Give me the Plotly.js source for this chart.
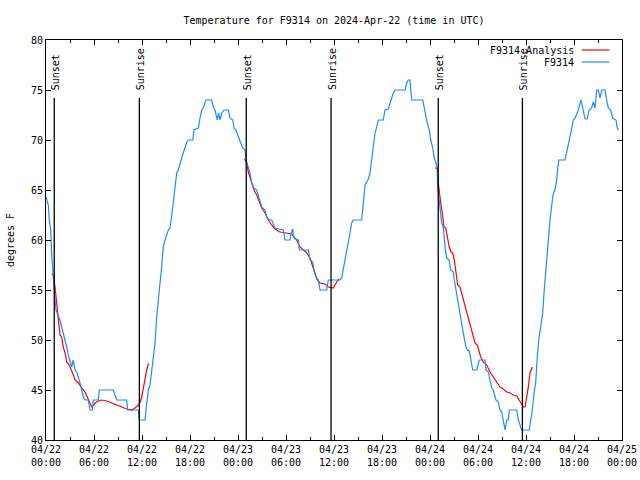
<!DOCTYPE html>
<html>
<head>
<meta charset="utf-8">
<script src="https://cdn.plot.ly/plotly-3.0.1.min.js"></script>
<style>html,body{margin:0;padding:0;background:#fff;}#chart{width:640px;height:480px;}</style>
</head>
<body>
<div id="chart"></div>
<script>
// ---- data (hours after 2024-04-22 00:00 UTC, degrees F) ----
const startDate = '2024-04-22';
const endDate = '2024-04-25';

const stationHours = [0,0.29,0.41,0.59,0.71,0.84,0.91,1.13,1.25,1.54,1.75,1.96,2.16,2.38,2.59,2.79,3.0,3.21,3.41,3.63,3.84,4.04,4.25,4.46,4.66,4.88,5.29,5.5,5.79,5.91,6.54,6.66,8.41,8.84,10.09,10.21,11.54,11.66,12.38,12.5,12.79,13.0,13.21,13.41,13.63,13.84,14.04,14.25,14.46,14.66,14.88,15.29,15.5,15.71,15.91,16.13,16.34,16.54,16.75,16.96,17.16,17.38,17.59,17.79,18.34,18.5,19.04,19.25,19.46,19.66,20.0,20.71,20.91,21.13,21.41,21.59,21.75,21.96,22.25,22.79,23.0,23.34,23.5,23.75,23.91,24.25,24.59,24.88,25.0,25.29,25.5,25.71,26.0,26.34,26.66,26.96,27.38,27.59,27.91,28.21,28.63,29.66,29.88,30.5,30.59,30.84,30.91,31.13,31.54,31.66,32.79,33.0,33.34,33.5,33.75,34.04,34.25,35.09,35.29,36.75,36.96,37.16,37.38,37.59,37.79,38.0,38.21,38.41,39.46,39.66,39.88,40.09,40.29,40.5,40.71,40.91,41.13,41.34,41.54,42.16,42.38,42.79,43.0,43.21,43.41,43.63,44.88,45.09,45.29,45.5,45.59,45.71,47.09,47.25,47.5,47.66,47.91,48.09,48.34,48.5,48.75,48.91,48.94,49.06,49.16,49.34,49.46,49.66,49.75,49.88,50.09,50.38,50.59,50.91,51.04,51.25,51.41,51.66,51.84,52.04,52.25,52.5,52.66,52.91,53.09,53.34,53.84,54.16,54.88,55.0,55.29,55.5,55.71,55.91,56.25,56.54,56.75,56.96,57.16,57.38,57.59,57.79,57.91,58.84,59.04,59.25,59.46,60.41,60.59,60.79,61.0,61.21,61.41,61.63,61.84,62.09,62.25,62.46,62.66,62.79,63.0,63.19,63.38,63.63,63.81,63.94,64.1,64.88,65.09,65.29,65.5,65.71,65.91,66.13,66.41,66.66,66.88,67.09,67.38,67.66,67.88,68.21,68.41,68.63,68.84,69.04,69.25,69.46,69.88,70.09,70.29,70.59,70.84,71.25,71.41,71.59];
const stationTemps = [64.3,63.5,62,61,58.5,57,55.5,54,53,52.5,52,51.3,50.7,50,49.3,48.5,48,47.3,48,47,46.8,46.3,45.7,45,44.3,44,44,43,43,44,44,45,45,44,44,43,43,42,42,43,45,45.5,47,48.3,49.7,52.3,54.3,55.7,57.3,59.3,60,61,61.2,62.3,63.7,65.3,66.7,67,67.7,68.2,68.7,69.3,69.8,70,70,71,71.2,72.2,73,73.2,74,74,73.3,73,72,72.7,72,72.7,73,73,72.2,72,71.2,71,70.7,69.9,69.2,69,68,67.1,66.7,65.7,65.2,65,64,63.3,63,62.3,62,62,61.2,61,60,60,60.5,61.1,60.5,60.1,60,59,59,58,57.8,57,56.3,56,55,55,56,56,56.2,57,58,58.7,59.5,60.7,61.7,62,62,63.7,65.5,65.8,66.1,66.7,68,69.3,70.7,71.3,72,72,73,73.1,73.8,74.2,74.7,75,75,75.7,76,76,75,74,74,73.3,72.5,71.7,71,70,69.2,68.3,67.7,67,65.5,64.5,63.7,62.7,61.7,61.3,60,59.3,58.2,58,57,56.8,56,55,54,53.2,52.3,51.3,50.3,49.3,49,48.9,48,47,47,48,48,47,46.8,46,45.2,45,44,43.8,43,42.8,42,41,42,42,43,43,42,41.5,41,41,42,43,44.7,45.7,48.3,50.3,51.3,52.7,54.7,57,59,60.3,62,63.3,64.5,65.1,65.8,67,68,68,68.8,69.2,70,71.1,72,72.2,72.7,73.3,74,73.2,72.1,72.1,73,73.2,73.8,73.2,75,75,74.2,75,75,74,73.2,73,72.2,72,71.2,71];

const analysisHours = [0.71,0.91,1.13,1.25,1.41,1.59,1.75,1.96,2.16,2.38,2.59,2.91,3.21,3.41,3.63,4.04,4.46,4.88,5.16,5.41,5.71,6.13,6.54,6.96,7.59,8.21,8.84,9.46,10.09,10.71,11.13,11.54,11.75,11.96,12.16,12.38,12.59,12.79,12.91,
  null,
  24.79,25.09,25.29,25.71,26.0,26.34,26.66,26.96,27.38,27.79,28.21,28.63,29.25,29.88,30.71,31.0,31.34,31.75,32.16,32.59,33.0,33.34,33.54,33.84,34.25,34.88,35.29,35.71,35.91,36.13,36.41,36.66,
  null,
  48.63,48.91,49.04,49.16,49.34,49.54,49.75,49.96,50.16,50.41,50.63,50.84,51.04,51.25,51.46,51.75,51.96,52.16,52.38,52.59,52.79,53.0,53.21,53.41,53.63,53.91,54.13,54.34,54.66,55.09,55.5,55.91,56.34,56.75,57.16,57.59,58.0,58.41,58.84,59.16,59.46,59.66,59.88,60.09,60.29,60.5,60.71,60.8];
const analysisTemps = [56.6,56.5,55.3,54.3,53,51.7,50.5,50.3,49.3,48.7,47.8,47.5,47,46.5,46,45.7,45.2,44.8,44.3,43.8,43.3,43.7,43.9,44,43.9,43.7,43.5,43.3,43.1,43,43.2,43.5,43.7,44.3,45.2,46.2,47,47.6,47.6,
  null,
  68.1,67.7,66.8,65.8,65,64.5,63.8,63.2,62.7,62,61.5,61.1,60.8,60.7,60.6,60.3,60,59.3,59,58.7,58.2,57.3,56.7,56.1,55.7,55.6,55.3,55.2,55.2,55.5,55.9,56.1,
  null,
  67.2,67.2,65.7,64.7,63.7,62.7,61.3,61.2,60.3,59.3,58.8,58.7,58,56.7,55.5,55.3,54.7,54,53.3,52.7,52.2,51.7,51,50.3,49.7,49.5,49,48.3,47.8,47.5,46.8,46.3,45.8,45.3,45.1,44.8,44.7,44.5,44.4,44,43.5,43.3,43.3,44.2,45.3,46.7,47.3,47.3];

const sunsetHours = [1.03, 25.03, 49.03];
const sunriseHours = [11.67, 35.63, 59.55];
const sunLineTop = 74.2;

const seriesNames = ['F9314 Analysis', 'F9314'];
const seriesColors = ['#ff0000', '#1a8cff'];
const titleText = 'Temperature for F9314 on 2024-Apr-22 (time in UTC)';
const yTitle = 'degrees F';
const yTicks = [40,45,50,55,60,65,70,75,80];

// ---- build ----
const base = Date.UTC(2024, 3, 22);
const toX = h => (h === null ? null : base + h * 3600000);
const FONT = 'DejaVu Sans Mono, monospace';

const traces = [
  {x: analysisHours.map(toX), y: analysisTemps, type: 'scatter', mode: 'lines',
   line: {color: seriesColors[0], width: 1.2}, connectgaps: false, showlegend: false, hoverinfo: 'skip'},
  {x: stationHours.map(toX), y: stationTemps, type: 'scatter', mode: 'lines',
   line: {color: seriesColors[1], width: 1.2}, showlegend: false, hoverinfo: 'skip'}
];

const shapes = [];
const annotations = [];
const sunEvents = [];
sunsetHours.forEach(h => sunEvents.push([h, 'Sunset']));
sunriseHours.forEach(h => sunEvents.push([h, 'Sunrise']));
sunEvents.forEach(([h, label]) => {
  shapes.push({type: 'line', xref: 'x', yref: 'y', x0: toX(h), x1: toX(h), y0: 40, y1: sunLineTop,
               line: {color: '#000', width: 1.3}, layer: 'above'});
  annotations.push({x: toX(h), xref: 'x', y: 0.87, yref: 'paper', text: label, textangle: -90,
                    showarrow: false, xanchor: 'center', yanchor: 'bottom', xshift: 1,
                    font: {family: FONT, size: 10, color: '#000'}});
});

// manual legend, gnuplot style (text right aligned, sample line to the right)
const legendRows = [0.975, 0.945];
seriesNames.forEach((name, i) => {
  annotations.push({x: 0.92, xref: 'paper', y: legendRows[i], yref: 'paper', text: name,
                    showarrow: false, xanchor: 'right', yanchor: 'middle',
                    font: {family: FONT, size: 10, color: '#000'}});
  shapes.push({type: 'line', xref: 'paper', yref: 'paper', x0: 0.93, x1: 0.978,
               y0: legendRows[i], y1: legendRows[i], line: {color: seriesColors[i], width: 1.2}});
});

const layout = {
  width: 640, height: 480,
  margin: {l: 46, r: 18, t: 40, b: 40},
  paper_bgcolor: '#fff', plot_bgcolor: '#fff',
  font: {family: FONT, size: 10, color: '#000'},
  title: {text: titleText, x: 0.5, xref: 'paper', xanchor: 'center', y: 0.958, yanchor: 'middle',
          font: {family: FONT, size: 10, color: '#000'}},
  showlegend: false,
  xaxis: {
    type: 'date', range: [startDate + ' 00:00', endDate + ' 00:00'],
    tickmode: 'linear', tick0: startDate + ' 00:00', dtick: 6 * 3600000,
    tickformat: '%m/%d<br>%H:%M', ticks: 'inside', ticklen: 5, tickcolor: '#000',
    minor: {dtick: 3 * 3600000, ticks: 'inside', ticklen: 3, tickcolor: '#000', showgrid: false},
    showgrid: false, zeroline: false, showline: true, linecolor: '#000', linewidth: 1, mirror: 'ticks',
    tickfont: {family: FONT, size: 10, color: '#000'}
  },
  yaxis: {
    range: [40, 80], tickvals: yTicks, ticktext: yTicks.map(String),
    ticks: 'inside', ticklen: 5, tickcolor: '#000',
    showgrid: false, zeroline: false, showline: true, linecolor: '#000', linewidth: 1, mirror: 'ticks',
    tickfont: {family: FONT, size: 10, color: '#000'},
    title: {text: yTitle, standoff: 14, font: {family: FONT, size: 10, color: '#000'}}
  },
  shapes: shapes,
  annotations: annotations
};

Plotly.newPlot('chart', traces, layout, {staticPlot: true, displayModeBar: false});
</script>
</body>
</html>
